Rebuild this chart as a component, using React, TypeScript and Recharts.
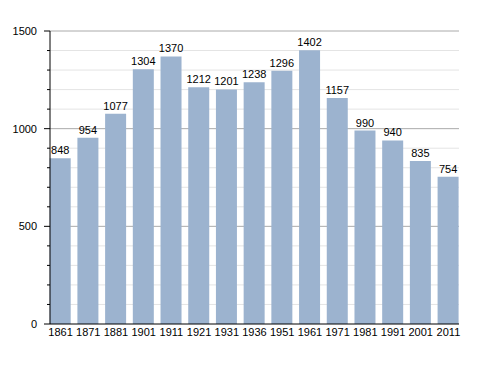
import { Bar, BarChart, CartesianGrid, LabelList, XAxis, YAxis } from 'recharts'

const years = ['1861', '1871', '1881', '1901', '1911', '1921', '1931', '1936', '1951', '1961', '1971', '1981', '1991', '2001', '2011']
const population = [848, 954, 1077, 1304, 1370, 1212, 1201, 1238, 1296, 1402, 1157, 990, 940, 835, 754]
const yTicks = [0, 100, 200, 300, 400, 500, 600, 700, 800, 900, 1000, 1100, 1200, 1300, 1400, 1500]
const majorTicks = [0, 500, 1000, 1500]
const minorTicks = yTicks.filter((t) => !majorTicks.includes(t))

const data = years.map((year, i) => ({ year, value: population[i] }))

const font = 'Liberation Sans, Arial, sans-serif'

function YTick({ x, y, payload }: any) {
  const major = majorTicks.includes(payload.value)
  return (
    <g>
      <line x1={50 - (major ? 6 : 3)} x2={50} y1={y} y2={y} stroke="#000" strokeWidth={1} />
      {major && (
        <text x={37} y={y} dy={4} textAnchor="end" fontSize={11} fontFamily={font} fill="#000">
          {payload.value}
        </text>
      )}
    </g>
  )
}

export default function App() {
  return (
    <div style={{ position: 'absolute', left: 0, top: 0, width: 488, height: 373, background: '#fff' }}>
      <BarChart width={488} height={373} data={data} margin={{ top: 31, right: 29, bottom: 29, left: 0 }}>
        <CartesianGrid vertical={false} horizontalValues={minorTicks} stroke="#e4e4e4" />
        <CartesianGrid vertical={false} horizontalValues={[500, 1000, 1500]} stroke="#aaaaaa" />
        <XAxis
          dataKey="year"
          height={20}
          padding={{ left: -3.3, right: -3.3 }}
          tickLine={false}
          axisLine={{ stroke: '#000' }}
          interval={0}
          tick={{ fontSize: 11, fontFamily: font, fill: '#000', dy: -4 }}
        />
        <YAxis
          width={50}
          domain={[0, 1500]}
          ticks={yTicks}
          interval={0}
          tickLine={false}
          tickSize={0}
          axisLine={{ stroke: '#000' }}
          tick={<YTick />}
        />
        <Bar dataKey="value" fill="#9cb3cf" barSize={21} isAnimationActive={false}>
          <LabelList dataKey="value" position="top" offset={4} fontSize={11} fontFamily={font} fill="#000" />
        </Bar>
      </BarChart>
    </div>
  )
}
